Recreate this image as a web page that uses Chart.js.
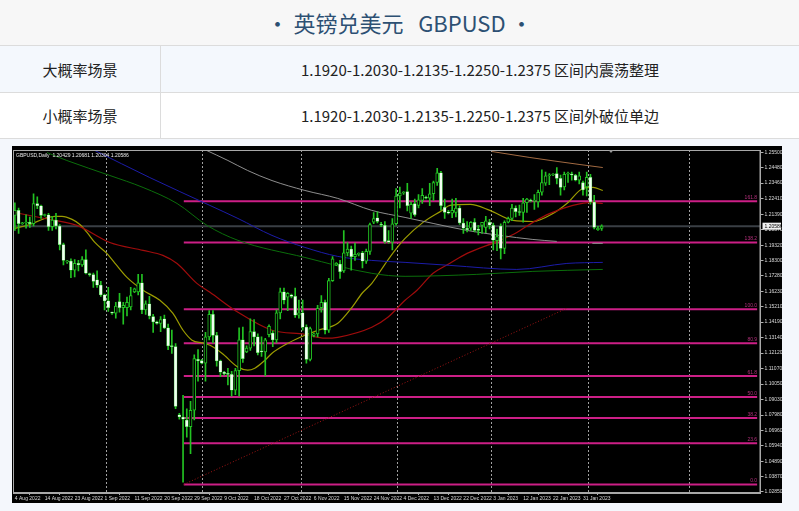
<!DOCTYPE html>
<html>
<head>
<meta charset="utf-8">
<script src="https://cdn.jsdelivr.net/npm/chart.js@4.4.1/dist/chart.umd.min.js"></script>
<style>
  html,body{margin:0;padding:0;}
  body{width:799px;height:511px;position:relative;overflow:hidden;background:#f4f7fc;font-family:"Noto Sans CJK SC","Noto Sans",sans-serif;}
  .title{position:absolute;left:0;top:0;width:799px;height:45px;background:#f7f7f7;border-bottom:1px solid #dcdcdc;text-align:center;line-height:44px;font-size:22px;color:#2d5073;}
  .row{position:absolute;left:0;width:799px;border-bottom:1px solid #dcdcdc;font-size:15px;color:#222;}
  .r1{top:46px;height:46px;background:#f4f8fd;}
  .r2{top:93px;height:45px;background:#ffffff;}
  .c1{position:absolute;left:0;top:0;width:160px;height:100%;border-right:1px solid #dcdcdc;display:flex;align-items:center;justify-content:center;}
  .c2{position:absolute;left:161px;top:0;right:0;height:100%;display:flex;align-items:center;justify-content:center;}
  .chartbox{position:absolute;left:12px;top:146px;width:770px;height:357px;background:#000;}
  canvas{display:block;}
</style>
</head>
<body>
<div class="title">•&nbsp;英镑兑美元&nbsp;&nbsp;&nbsp;GBPUSD&nbsp;•</div>
<div class="row r1"><div class="c1">大概率场景</div><div class="c2">1.1920-1.2030-1.2135-1.2250-1.2375 区间内震荡整理</div></div>
<div class="row r2"><div class="c1">小概率场景</div><div class="c2">1.1920-1.2030-1.2135-1.2250-1.2375 区间外破位单边</div></div>
<div class="chartbox"><canvas id="c" width="770" height="357"></canvas></div>
<script>
const dateLabels = ['4 Aug 2022','14 Aug 2022','23 Aug 2022','1 Sep 2022','11 Sep 2022','20 Sep 2022','29 Sep 2022','9 Oct 2022','18 Oct 2022','27 Oct 2022','6 Nov 2022','15 Nov 2022','24 Nov 2022','4 Dec 2022','13 Dec 2022','22 Dec 2022','3 Jan 2023','12 Jan 2023','22 Jan 2023','31 Jan 2023'];
const dateIdx = [0,8,16,24,32,40,48,56,64,72,80,88,96,104,112,120,128,136,144,152];
const yTicks = [1.25500,1.24480,1.23460,1.22410,1.21390,1.20370,1.19320,1.18300,1.17280,1.16230,1.15210,1.14190,1.13140,1.12120,1.11070,1.10050,1.09030,1.07980,1.06960,1.05940,1.04890,1.03870,1.02850];

const open = [1.2130,1.2165,1.2075,1.2080,1.2085,1.2075,1.2210,1.2195,1.2130,1.2135,
1.2055,1.2100,1.2060,1.1935,1.1820,1.1825,1.1765,1.1810,1.1800,1.1835,
1.1740,1.1735,1.1700,1.1665,1.1600,1.1560,1.1480,1.1478,1.1555,1.1515,
1.1515,1.1520,1.1620,1.1620,1.1680,1.1500,1.1540,1.1455,1.1420,1.1410,
1.1440,1.1380,1.1260,1.1255,1.0800,1.0785,1.0765,1.0720,1.0830,1.1170,
1.1162,1.1145,1.1320,1.1470,1.1330,1.1160,1.1085,1.1075,1.1070,1.0965,
1.1095,1.1300,1.1220,1.1245,1.1355,1.1320,1.1225,1.1220,1.1335,1.1345,
1.1300,1.1480,1.1620,1.1585,1.1600,1.1590,1.1465,1.1480,1.1385,1.1170,
1.1330,1.1340,1.1515,1.1550,1.1365,1.1695,1.1800,1.1805,1.1760,1.1880,
1.1905,1.1855,1.1870,1.1880,1.1825,1.1890,1.2085,1.2115,1.2070,1.2065,
1.1962,1.1952,1.2075,1.2260,1.2280,1.2290,1.2145,1.2210,1.2197,1.2230,
1.2250,1.2245,1.2275,1.2350,1.2415,1.2185,1.2155,1.2145,1.2150,1.2180,
1.2080,1.2045,1.2045,1.2085,1.2040,1.2064,1.2050,1.2085,1.2065,1.1962,
1.2060,1.1910,1.2085,1.2110,1.2180,1.2155,1.2150,1.2215,1.2230,1.2225,
1.2220,1.2285,1.2345,1.2395,1.2400,1.2410,1.2378,1.2320,1.2405,1.2408,
1.2398,1.2365,1.2350,1.2320,1.2385,1.2220,1.2035,1.20429];
const high = [1.2215,1.2180,1.2085,1.2135,1.2120,1.2275,1.2255,1.2200,1.2140,1.2145,
1.2125,1.2145,1.2070,1.1945,1.1830,1.1840,1.1835,1.1830,1.1855,1.1900,
1.1745,1.1745,1.1760,1.1690,1.1605,1.1650,1.1485,1.1550,1.1610,1.1550,
1.1585,1.1650,1.1645,1.1738,1.1738,1.1560,1.1590,1.1470,1.1425,1.1455,
1.1465,1.1405,1.1365,1.1275,1.0810,1.0930,1.0840,1.0890,1.1200,1.1235,
1.1170,1.1350,1.1495,1.1495,1.1350,1.1165,1.1090,1.1110,1.1090,1.1110,
1.1380,1.1385,1.1260,1.1440,1.1435,1.1340,1.1320,1.1310,1.1400,1.1360,
1.1500,1.1645,1.1645,1.1615,1.1605,1.1645,1.1565,1.1565,1.1400,1.1385,
1.1345,1.1530,1.1595,1.1565,1.1710,1.1855,1.1815,1.1830,1.2030,1.1950,
1.1925,1.1945,1.1880,1.1890,1.1905,1.2080,1.2150,1.2155,1.2085,1.2090,
1.2030,1.2110,1.2310,1.2320,1.2290,1.2345,1.2220,1.2240,1.2270,1.2310,
1.2260,1.2345,1.2360,1.2445,1.2425,1.2240,1.2165,1.2240,1.2245,1.2195,
1.2110,1.2090,1.2090,1.2110,1.2065,1.2085,1.2125,1.2105,1.2080,1.2040,
1.2075,1.2095,1.2120,1.2205,1.2195,1.2200,1.2245,1.2245,1.2240,1.2270,
1.2300,1.2435,1.2420,1.2410,1.2410,1.2450,1.2400,1.2420,1.2420,1.2420,
1.2405,1.2420,1.2360,1.2420,1.2405,1.2265,1.2058,1.20681];
const low = [1.2030,1.2010,1.2070,1.2045,1.2050,1.2060,1.2175,1.2110,1.2125,1.2030,
1.2030,1.2040,1.1900,1.1800,1.1810,1.1715,1.1720,1.1760,1.1790,1.1740,
1.1725,1.1650,1.1650,1.1590,1.1500,1.1490,1.1470,1.1445,1.1485,1.1405,
1.1460,1.1500,1.1615,1.1600,1.1475,1.1470,1.1440,1.1350,1.1405,1.1355,
1.1375,1.1235,1.1210,1.0840,1.0770,1.0350,1.0650,1.0540,1.0765,1.1025,
1.1140,1.1025,1.1300,1.1280,1.1125,1.1055,1.1065,1.1000,1.0925,1.0935,
1.0925,1.1150,1.1215,1.1230,1.1260,1.1200,1.1190,1.1060,1.1320,1.1255,
1.1280,1.1440,1.1540,1.1495,1.1580,1.1450,1.1445,1.1365,1.1145,1.1160,
1.1320,1.1320,1.1485,1.1340,1.1350,1.1690,1.1795,1.1710,1.1750,1.1860,
1.1765,1.1830,1.1860,1.1780,1.1810,1.1870,1.2075,1.2080,1.2055,1.1945,
1.1945,1.1900,1.2065,1.2180,1.2270,1.2160,1.2110,1.2125,1.2180,1.2210,
1.2240,1.2195,1.2230,1.2330,1.2165,1.2110,1.2140,1.2115,1.2120,1.2070,
1.2010,1.2020,1.2030,1.2020,1.2000,1.2010,1.2015,1.2040,1.1900,1.1895,
1.1840,1.1875,1.2080,1.2095,1.2120,1.2130,1.2085,1.2150,1.2220,1.2170,
1.2185,1.2265,1.2330,1.2335,1.2395,1.2340,1.2265,1.2300,1.2350,1.2365,
1.2360,1.2340,1.2265,1.2260,1.2205,1.2040,1.2030,1.20304];
const close = [1.2165,1.2075,1.2080,1.2085,1.2075,1.2210,1.2195,1.2130,1.2135,1.2055,
1.2100,1.2060,1.1935,1.1830,1.1825,1.1765,1.1810,1.1800,1.1835,1.1745,
1.1735,1.1690,1.1665,1.1600,1.1560,1.1515,1.1478,1.1525,1.1515,1.1530,
1.1550,1.1595,1.1640,1.1680,1.1500,1.1540,1.1460,1.1420,1.1410,1.1435,
1.1380,1.1260,1.1255,1.0855,1.0785,1.0770,1.0720,1.0830,1.1175,1.1160,
1.1145,1.1320,1.1470,1.1330,1.1160,1.1085,1.1075,1.1070,1.0965,1.1095,
1.1300,1.1175,1.1245,1.1355,1.1320,1.1215,1.1220,1.1300,1.1390,1.1300,
1.1480,1.1620,1.1565,1.1610,1.1590,1.1465,1.1480,1.1385,1.1170,1.1375,
1.1340,1.1510,1.1550,1.1365,1.1695,1.1840,1.1810,1.1755,1.1880,1.1905,
1.1855,1.1870,1.1875,1.1825,1.1890,1.2070,1.2110,1.2090,1.2065,1.1955,
1.1952,1.2075,1.2260,1.2280,1.2283,1.2195,1.2205,1.2135,1.2235,1.2265,
1.2245,1.2275,1.2350,1.2415,1.2195,1.2150,1.2145,1.2165,1.2180,1.2080,
1.2045,1.2035,1.2085,1.2030,1.2030,1.2084,1.2095,1.2065,1.1965,1.1990,
1.1910,1.2085,1.2110,1.2180,1.2155,1.2150,1.2215,1.2240,1.2225,1.2230,
1.2285,1.2350,1.2395,1.2400,1.2405,1.2378,1.2318,1.2405,1.2408,1.2400,
1.2365,1.2395,1.2300,1.2385,1.2220,1.2050,1.2045,1.20586];

// moving averages and other curves: [bar index, price]
const maYellow = [[0,1.2044],[4.0,1.2070],[8.0,1.2110],[10.7,1.2124],[12.6,1.2124],[15.3,1.2104],[17.4,1.2070],[19.3,1.2017],[21.4,1.1950],[24.6,1.1877],[26.8,1.1811],[30.0,1.1717],[34.3,1.1631],[38.8,1.1564],[42.3,1.1477],[45.0,1.1364],[47.4,1.1298],[50.3,1.1278],[52.2,1.1264],[55.4,1.1211],[59.7,1.1118],[62.3,1.1098],[64.2,1.1111],[66.9,1.1164],[68.8,1.1211],[73.1,1.1278],[77.6,1.1331],[81.1,1.1364],[86.4,1.1411],[90.2,1.1517],[92.9,1.1611],[95.5,1.1677],[99.0,1.1804],[101.7,1.1897],[104.4,1.1977],[109.2,1.2084],[114.3,1.2164],[116.4,1.2197],[121.8,1.2204],[127.1,1.2164],[133.3,1.2097],[138.6,1.2090],[144.0,1.2144],[147.7,1.2210],[152.0,1.2310],[154.7,1.2317],[157.3,1.2297]];
const maRed = [[0,1.2150],[8.0,1.2110],[16.6,1.2064],[25.4,1.1950],[34.3,1.1897],[39.6,1.1864],[43.4,1.1810],[48.7,1.1677],[52.2,1.1617],[59.7,1.1484],[68.8,1.1364],[77.6,1.1337],[83.0,1.1311],[86.4,1.1317],[95.5,1.1384],[99.8,1.1451],[104.4,1.1564],[107.6,1.1631],[111.9,1.1744],[116.4,1.1811],[121.0,1.1877],[129.8,1.1964],[134.3,1.2017],[138.6,1.2084],[143.2,1.2144],[149.3,1.2197],[154.4,1.2217],[157.3,1.2210]];
const maGreen = [[8.6,1.2550],[13.9,1.2497],[25.4,1.2397],[34.3,1.2317],[43.4,1.2210],[51.4,1.2064],[59.7,1.1964],[77.6,1.1850],[95.5,1.1744],[104.4,1.1724],[123.6,1.1737],[138.6,1.1757],[157.3,1.1770]];
const maBlue = [[20.9,1.2570],[36.1,1.2383],[52.2,1.2197],[59.7,1.2110],[68.8,1.1997],[77.6,1.1917],[86.4,1.1857],[95.5,1.1830],[104.4,1.1817],[116.4,1.1797],[134.3,1.1770],[147.7,1.1810],[157.3,1.1817]];
const curveGray = [[50.8,1.2570],[57.0,1.2497],[62.3,1.2430],[68.8,1.2363],[77.6,1.2297],[86.4,1.2244],[95.5,1.2164],[104.4,1.2117],[111.9,1.2077],[121.0,1.2030],[129.8,1.1997],[138.6,1.1970],[145.0,1.1957]];
const curveBrown = [[127.6,1.2557],[137.8,1.2517],[151.2,1.2470],[157.3,1.2450]];
const stubGray = [[154.5,1.1944],[157.3,1.1944]];
const trendLine = [[45.2,1.0335],[147.7,1.1511]];

const fibRatios = ['0.0','23.6','38.2','50.0','61.8','80.9','100.0','138.2','161.8'];
const fibPrices = [1.0335,1.0610,1.0778,1.0918,1.1058,1.1278,1.1504,1.1950,1.2225];
const fibSpan = [45.2,198.6];
const monthSeps = [24.3,50,76.5,102.2,127.4,153.3,180.4];
const lastPrice = 1.20586;
const infoText = 'GBPUSD,Daily  1.20429 1.20681 1.20304 1.20586';

const idx = open.map((_, i) => i);
const bull = idx.map(i => close[i] >= open[i]);
const pts = arr => arr.map(([x, y]) => ({x, y}));
const fibData = [];
fibPrices.forEach(p => { fibData.push({x: fibSpan[0], y: p}, {x: fibSpan[1], y: p}, {x: fibSpan[1], y: null}); });

const lineDs = (data, color, extra) => Object.assign({type: 'line', data: pts(data), borderColor: color, borderWidth: 1, pointRadius: 0, fill: false, cubicInterpolationMode: 'monotone', order: 3}, extra || {});

const mtPlugin = {
  id: 'mt',
  beforeDatasetsDraw(chart) {
    const {ctx, chartArea: a, scales: {x}} = chart;
    ctx.save();
    ctx.strokeStyle = '#a0a0a0'; ctx.lineWidth = 1; ctx.setLineDash([2, 2]);
    monthSeps.forEach(v => {
      const px = Math.round(x.getPixelForValue(v)) + 0.5;
      ctx.beginPath(); ctx.moveTo(px, a.top); ctx.lineTo(px, a.bottom); ctx.stroke();
    });
    ctx.restore();
  },
  afterDraw(chart) {
    const {ctx, chartArea: a, scales: {x, y}} = chart;
    ctx.save();
    // frame
    ctx.strokeStyle = '#a8a8a8'; ctx.lineWidth = 1;
    ctx.strokeRect(a.left + 0.5, a.top + 0.5, a.right - a.left - 1, a.bottom - a.top - 1);
    // fib labels
    ctx.font = '5px "Liberation Sans"'; ctx.fillStyle = '#b4307c'; ctx.textAlign = 'right'; ctx.textBaseline = 'bottom';
    fibPrices.forEach((p, k) => ctx.fillText(fibRatios[k], x.getPixelForValue(fibSpan[1]), y.getPixelForValue(p) - 1));
    // info text
    ctx.font = '5px "Liberation Sans"'; ctx.fillStyle = '#e8e8e8'; ctx.textAlign = 'left'; ctx.textBaseline = 'middle';
    ctx.fillText(infoText, a.left + 3, a.top + 6);
    // price box
    const py = y.getPixelForValue(lastPrice);
    ctx.fillStyle = '#f0f0f0'; ctx.fillRect(a.right + 2, py - 3.5, chart.width - a.right - 3, 7);
    ctx.fillStyle = '#000'; ctx.font = '5px "Liberation Sans"'; ctx.textBaseline = 'middle';
    ctx.fillText(lastPrice.toFixed(5), a.right + 4, py);
    // shift marker
    const sx = x.getPixelForValue(159.5);
    ctx.fillStyle = '#9a9a9a'; ctx.beginPath(); ctx.moveTo(sx - 2.5, a.top); ctx.lineTo(sx + 2.5, a.top); ctx.lineTo(sx, a.top + 3); ctx.closePath(); ctx.fill();
    ctx.restore();
  }
};

new Chart(document.getElementById('c'), {
  type: 'bar',
  data: {
    datasets: [
      {type: 'bar', data: idx.map(i => ({x: i, y: [open[i], close[i]]})), backgroundColor: bull.map(b => b ? '#000000' : '#f0fff0'), borderColor: '#22c322', borderWidth: bull.map(b => b ? 1 : 0.5), borderSkipped: false, barThickness: 3, grouped: false, minBarLength: 1, order: 0},
      {type: 'bar', data: idx.map(i => ({x: i, y: [low[i], high[i]]})), backgroundColor: '#22c322', borderWidth: 0, barThickness: 1, grouped: false, order: 1},
      {type: 'line', data: fibData, borderColor: '#cc1f86', borderWidth: 2, pointRadius: 0, fill: false, spanGaps: false, order: 4},
      {type: 'line', data: [{x: -0.5, y: lastPrice}, {x: 199.5, y: lastPrice}], borderColor: '#3a3f45', borderWidth: 2, pointRadius: 0, fill: false, order: 5},
      lineDs(trendLine, '#a01515', {borderDash: [1, 2], cubicInterpolationMode: 'default'}),
      lineDs(curveGray, '#8e8e8e'),
      lineDs(stubGray, '#8e8e8e', {cubicInterpolationMode: 'default'}),
      lineDs(curveBrown, '#a26a42'),
      lineDs(maGreen, '#0b6e0b'),
      lineDs(maBlue, '#1c1ca8'),
      lineDs(maRed, '#a00c0c', {borderWidth: 1.2}),
      lineDs(maYellow, '#9c9c00', {borderWidth: 1.2})
    ]
  },
  options: {
    responsive: false, animation: false, devicePixelRatio: 1,
    layout: {padding: {left: 1, top: 3.5, right: 0, bottom: 0}},
    plugins: {legend: {display: false}, tooltip: {enabled: false}, title: {display: false}},
    scales: {
      x: {
        type: 'linear', min: -0.5, max: 199.5, offset: false,
        grid: {display: true, drawOnChartArea: false, drawTicks: true, tickLength: 2, color: '#b0b0b0'},
        border: {display: true, color: '#a8a8a8'},
        ticks: {autoSkip: false, maxRotation: 0, minRotation: 0, align: 'start', padding: 1, color: '#dadada', font: {size: 5, family: 'Liberation Sans'}, callback: (v, i) => dateLabels[i]},
        afterBuildTicks: s => { s.ticks = dateIdx.map(v => ({value: v})); },
        afterFit: s => { s.height = 10; }
      },
      y: {
        position: 'right', min: 1.0278, max: 1.2567,
        grid: {display: true, drawOnChartArea: false, drawTicks: true, tickLength: 3, color: '#b0b0b0'},
        border: {display: true, color: '#a8a8a8'},
        ticks: {color: '#dadada', padding: 1, font: {size: 5, family: 'Liberation Sans'}, callback: v => v.toFixed(5)},
        afterBuildTicks: s => { s.ticks = yTicks.map(v => ({value: v})); },
        afterFit: s => { s.width = 21.5; }
      }
    }
  },
  plugins: [mtPlugin]
});
</script>
</body>
</html>
